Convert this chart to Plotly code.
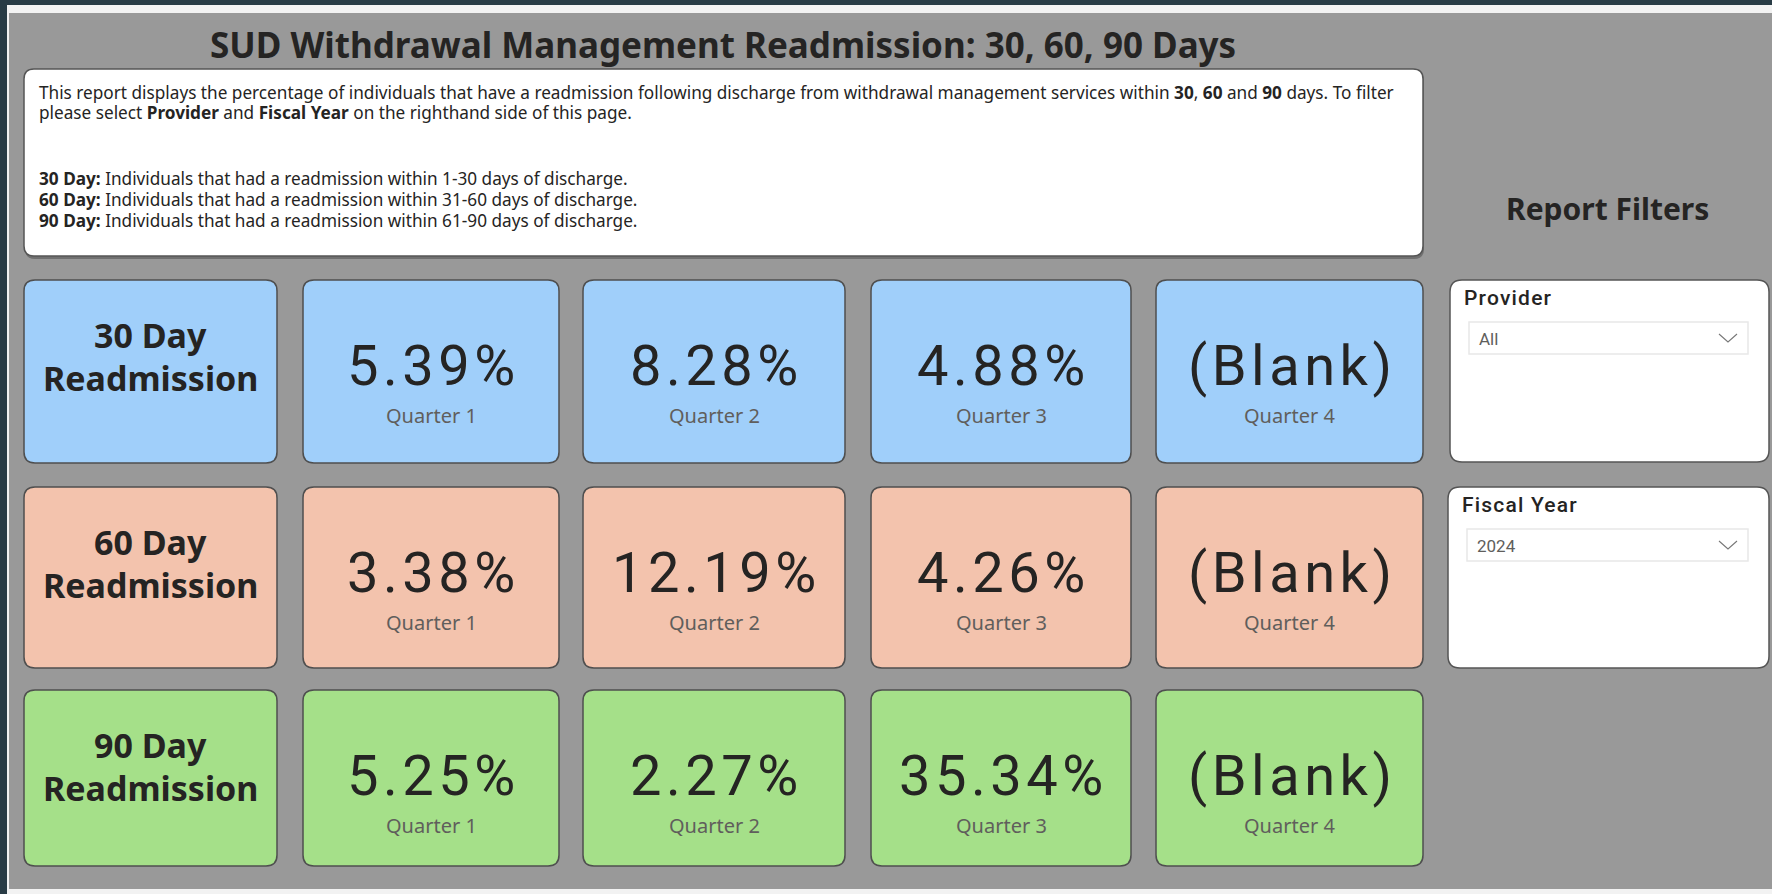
import plotly.graph_objects as go

# ---------------- data ----------------
TITLE = "SUD Withdrawal Management Readmission: 30, 60, 90 Days"
ROW_LABELS = ["30 Day", "60 Day", "90 Day"]
QUARTERS = ["Quarter 1", "Quarter 2", "Quarter 3", "Quarter 4"]
VALUES_30 = [5.39, 8.28, 4.88, None]
VALUES_60 = [3.38, 12.19, 4.26, None]
VALUES_90 = [5.25, 2.27, 35.34, None]
DESC_LINE1 = ("This report displays the percentage of individuals that have a readmission following discharge "
              "from withdrawal management services within <b>30</b>, <b>60</b> and <b>90</b> days. To filter")
DESC_LINE2 = "please select <b>Provider</b> and <b>Fiscal Year</b> on the righthand side of this page."
DEF_TERMS = ["30 Day:", "60 Day:", "90 Day:"]
DEF_TEXTS = ["Individuals that had a readmission within 1-30 days of discharge.",
             "Individuals that had a readmission within 31-60 days of discharge.",
             "Individuals that had a readmission within 61-90 days of discharge."]
FILTER_TITLE = "Report Filters"
FILTER_NAMES = ["Provider", "Fiscal Year"]
FILTER_VALUES = ["All", "2024"]

# ---------------- layout constants ----------------
W, H = 1772, 894
ROW_COLORS = ["#A0CFFA", "#F3C3AD", "#A5E089"]
COLS = [(24, 277), (303, 559), (583, 845), (871, 1131), (1156, 1423)]
ROWS = [(280, 463), (487, 668), (690, 866)]
FILTER_BOXES = [(1450, 280, 1769, 462), (1448, 487, 1769, 668)]
TXT = "#252423"
SUB = "#605E5C"


def rrect(x0, y0, x1, y1, r):
    return (f"M{x0+r},{y0} L{x1-r},{y0} Q{x1},{y0} {x1},{y0+r} L{x1},{y1-r} "
            f"Q{x1},{y1} {x1-r},{y1} L{x0+r},{y1} Q{x0},{y1} {x0},{y1-r} "
            f"L{x0},{y0+r} Q{x0},{y0} {x0+r},{y0} Z")


def fmt(v):
    return "(Blank)" if v is None else f"{v:.2f}%"


def spaced(text, px):
    return f'<span style="letter-spacing:{px}px">{text}</span>'


shapes = []
ann = []

# page background frame
shapes.append(dict(type="rect", x0=0, y0=0, x1=W, y1=H, fillcolor="#283B45", line_width=0, layer="below"))
shapes.append(dict(type="rect", x0=7, y0=5, x1=W, y1=H, fillcolor="#F2F2F2", line_width=0, layer="below"))
shapes.append(dict(type="rect", x0=9, y0=13, x1=W, y1=889, fillcolor="#999999", line_width=0, layer="below"))

# title
ann.append(dict(x=723, y=44, text=f"<b>{TITLE}</b>", showarrow=False, xanchor="center", yanchor="middle",
                font=dict(family="Noto Sans", size=35, color=TXT)))

# description box
shapes.append(dict(type="path", path=rrect(25, 71, 1424, 259, 10), fillcolor="#707070", line_width=0))
shapes.append(dict(type="path", path=rrect(24, 69, 1423, 256, 10), fillcolor="white",
                   line=dict(color="#555555", width=1.5)))
dfont = dict(family="Noto Sans", size=17.2, color=TXT)
ann.append(dict(x=37, y=92, text=DESC_LINE1, showarrow=False, xanchor="left", yanchor="middle", font=dfont))
ann.append(dict(x=37, y=112, text=DESC_LINE2, showarrow=False, xanchor="left", yanchor="middle", font=dfont))
for i, (term, txt) in enumerate(zip(DEF_TERMS, DEF_TEXTS)):
    ann.append(dict(x=37, y=178 + 21 * i, text=f"<b>{term}</b> {txt}", showarrow=False, xanchor="left",
                    yanchor="middle", font=dfont))

# cards
all_values = [VALUES_30, VALUES_60, VALUES_90]
for r, ((y0, y1), label, vals, color) in enumerate(zip(ROWS, ROW_LABELS, all_values, ROW_COLORS)):
    for c, (x0, x1) in enumerate(COLS):
        shapes.append(dict(type="path", path=rrect(x0, y0, x1, y1, 11), fillcolor=color,
                           line=dict(color="#4F4F4F", width=1.5)))
    lx = (COLS[0][0] + COLS[0][1]) / 2
    ann.append(dict(x=lx, y=y0 + 55, text=f"<b>{label}</b>", showarrow=False, xanchor="center",
                    yanchor="middle", font=dict(family="Noto Sans", size=34, color=TXT)))
    ann.append(dict(x=lx, y=y0 + 98, text="<b>Readmission</b>", showarrow=False, xanchor="center",
                    yanchor="middle", font=dict(family="Noto Sans", size=34, color=TXT)))
    for c, (v, q) in enumerate(zip(vals, QUARTERS)):
        x0, x1 = COLS[c + 1]
        cx = (x0 + x1) / 2
        ann.append(dict(x=cx + 2, y=y0 + 86, text=spaced(fmt(v), 4.5), showarrow=False, xanchor="center",
                        yanchor="middle", font=dict(family="Roboto", size=56, color=TXT)))
        ann.append(dict(x=cx, y=y0 + 135, text=q, showarrow=False, xanchor="center", yanchor="middle",
                        font=dict(family="Noto Sans", size=20, color=SUB)))

# filters
ann.append(dict(x=1607, y=208, text=f"<b>{FILTER_TITLE}</b>", showarrow=False, xanchor="center",
                yanchor="middle", font=dict(family="Noto Sans", size=30, color=TXT)))
for (x0, y0, x1, y1), name, val in zip(FILTER_BOXES, FILTER_NAMES, FILTER_VALUES):
    shapes.append(dict(type="path", path=rrect(x0, y0, x1, y1, 12), fillcolor="white",
                       line=dict(color="#555555", width=1.5)))
    ann.append(dict(x=x0 + 12, y=y0 + 18, text=spaced(name, 1.2), showarrow=False, xanchor="left",
                    yanchor="middle", font=dict(family="Roboto", size=21, color=TXT, weight=500)))
    shapes.append(dict(type="rect", x0=x0 + 19, y0=y0 + 42, x1=x1 - 21, y1=y0 + 74,
                       fillcolor="white", line=dict(color="#E8E8E8", width=1.5)))
    ann.append(dict(x=x0 + 27, y=y0 + 59, text=val, showarrow=False, xanchor="left", yanchor="middle",
                    font=dict(family="Roboto", size=17, color=SUB)))
    chx = x1 - 41
    shapes.append(dict(type="path", path=f"M{chx-9},{y0+54} L{chx},{y0+62} L{chx+9},{y0+54}",
                       line=dict(color="#777777", width=1.1)))

fig = go.Figure()
fig.add_trace(go.Scatter(x=[0, W], y=[0, H], mode="markers", marker=dict(opacity=0), hoverinfo="skip",
                         showlegend=False))
fig.update_layout(
    width=W, height=H, margin=dict(l=0, r=0, t=0, b=0),
    paper_bgcolor="#283B45", plot_bgcolor="#283B45",
    xaxis=dict(range=[0, W], visible=False, fixedrange=True),
    yaxis=dict(range=[H, 0], visible=False, fixedrange=True),
    shapes=shapes, annotations=ann, showlegend=False,
)
fig.write_html("out.html", config={"displayModeBar": False},
               post_script="document.body.style.margin='0';document.body.style.overflow='hidden';")
